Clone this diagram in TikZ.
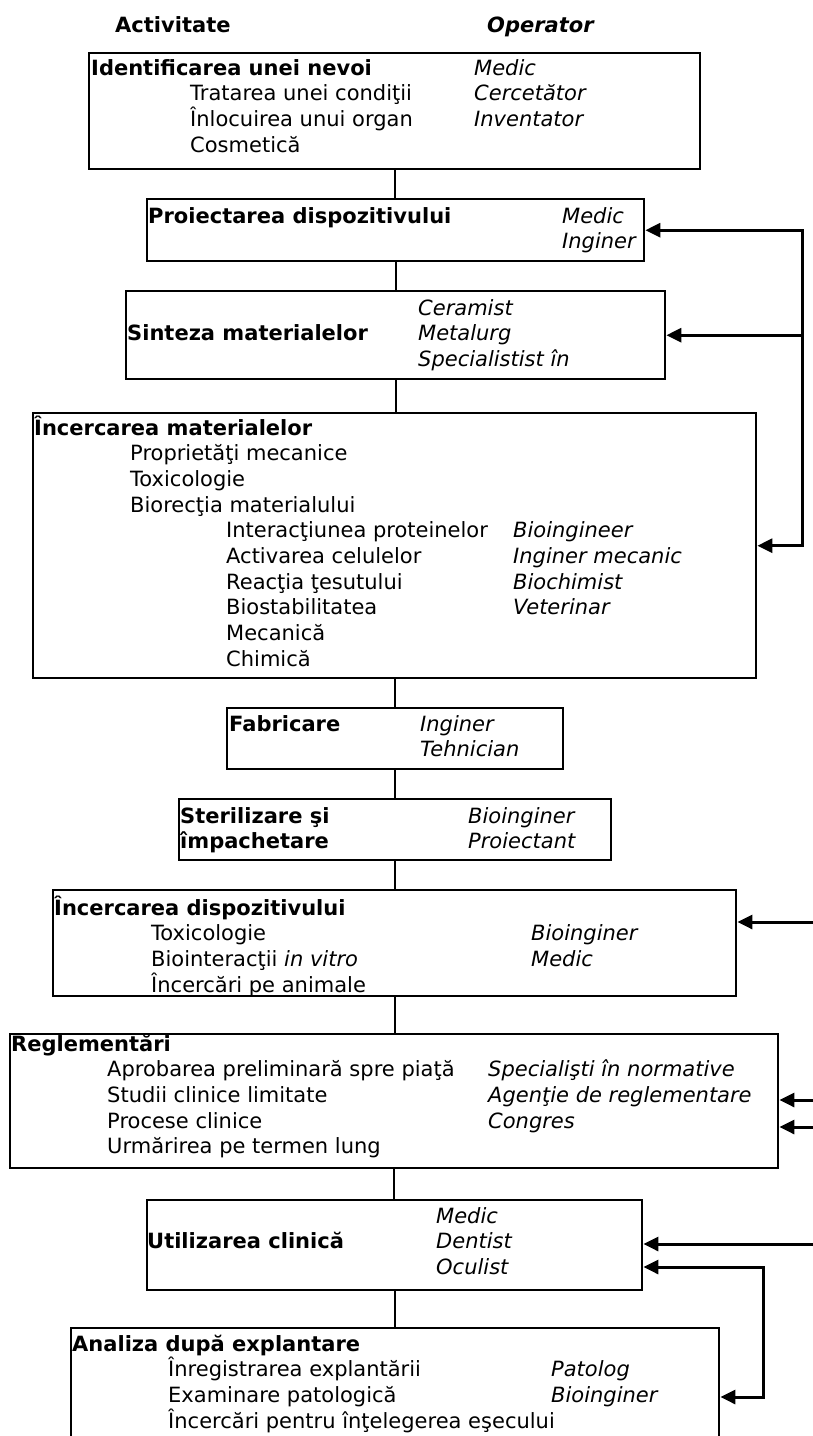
\documentclass[tikz,border=0pt]{standalone}
\usepackage{fontspec}
\setmainfont{DejaVu Sans}
\usetikzlibrary{arrows.meta}

\newlength{\actw}
\newcommand{\act}[2][0]{\makebox[\actw][l]{\hspace*{#1pt}\smash{#2}}}
\newcommand{\boxrows}[2]{\setlength{\actw}{#1pt}\begin{tabular}[t]{@{}l@{}l@{}}#2\end{tabular}}

\tikzset{
  box/.style={draw, line width=2.4pt, anchor=north west, inner sep=0pt},
  txt/.style={anchor=base west, inner sep=0pt},
  link/.style={line width=1.8pt},
  fb/.style={line width=3pt},
  >={Triangle[length=15pt,width=14pt]}
}

\begin{document}
\begin{tikzpicture}[x=1pt, y=-1pt, font=\fontsize{21}{25.7}\selectfont]

    \useasboundingbox (0,0) rectangle (813,1436);
    \fill[white] (0,0) rectangle (813,1436);

    \node[txt] (hact) at (115,32) {\textbf{Activitate}};
    \node[txt] (hop) at (487,32) {\textbf{\textit{Operator}}};

    % boxes
    \node[box, minimum width=611, minimum height=116] (b1) at (88,52) {};
    \node[box, minimum width=497, minimum height=62] (b2) at (146,198) {};
    \node[box, minimum width=539, minimum height=88] (b3) at (125,290) {};
    \node[box, minimum width=723, minimum height=265] (b4) at (32,412) {};
    \node[box, minimum width=336, minimum height=61] (b5) at (226,707) {};
    \node[box, minimum width=432, minimum height=61] (b6) at (178,798) {};
    \node[box, minimum width=683, minimum height=106] (b7) at (52,889) {};
    \node[box, minimum width=768, minimum height=134] (b8) at (9,1033) {};
    \node[box, minimum width=495, minimum height=90] (b9) at (146,1199) {};
    \node[box, minimum width=648, minimum height=130] (b10) at (70,1327) {};

    % texts
    \node[txt] (t1) at (91,75) {\boxrows{383}{
        \act{\textbf{Identificarea unei nevoi}} & \textit{Medic}\\
        \act[99]{Tratarea unei condiţii} & \textit{Cercetător}\\
        \act[99]{Înlocuirea unui organ} & \textit{Inventator}\\
        \act[99]{Cosmetică} & }};
    \node[txt] (t2) at (148,223) {\boxrows{414}{
        \act{\textbf{Proiectarea dispozitivului}} & \textit{Medic}\\
        \act{} & \textit{Inginer}}};
    \node[txt] (t3) at (127,315) {\boxrows{291}{
        \act{} & \textit{Ceramist}\\
        \act{\textbf{Sinteza materialelor}} & \textit{Metalurg}\\
        \act{} & \textit{Specialistist în}}};
    \node[txt] (t4) at (34,435) {\boxrows{479}{
        \act{\textbf{Încercarea materialelor}} & \\
        \act[96]{Proprietăţi mecanice} & \\
        \act[96]{Toxicologie} & \\
        \act[96]{Biorecţia materialului} & \\
        \act[192]{Interacţiunea proteinelor} & \textit{Bioingineer}\\
        \act[192]{Activarea celulelor} & \textit{Inginer mecanic}\\
        \act[192]{Reacţia ţesutului} & \textit{Biochimist}\\
        \act[192]{Biostabilitatea} & \textit{Veterinar}\\
        \act[192]{Mecanică} & \\
        \act[192]{Chimică} & }};
    \node[txt] (t5) at (229,731) {\boxrows{191}{
        \act{\textbf{Fabricare}} & \textit{Inginer}\\
        \act{} & \textit{Tehnician}}};
    \node[txt] (t6) at (180,823) {\boxrows{288}{
        \act{\textbf{Sterilizare şi}} & \textit{Bioinginer}\\
        \act{\textbf{împachetare}} & \textit{Proiectant}}};
    \node[txt] (t7) at (54,915) {\boxrows{477}{
        \act{\textbf{Încercarea dispozitivului}} & \\
        \act[97]{Toxicologie} & \textit{Bioinginer}\\
        \act[97]{Biointeracţii \textit{in vitro}} & \textit{Medic}\\
        \act[97]{Încercări pe animale} & }};
    \node[txt] (t8) at (11,1051) {\boxrows{477}{
        \act{\textbf{Reglementări}} & \\
        \act[96]{Aprobarea preliminară spre piaţă} & \textit{Specialişti în normative}\\
        \act[96]{Studii clinice limitate} & \textit{Agenţie de reglementare}\\
        \act[96]{Procese clinice} & \textit{Congres}\\
        \act[96]{Urmărirea pe termen lung} & }};
    \node[txt] (t9) at (147,1223) {\boxrows{289}{
        \act{} & \textit{Medic}\\
        \act{\textbf{Utilizarea clinică}} & \textit{Dentist}\\
        \act{} & \textit{Oculist}}};
    \node[txt] (t10) at (72,1351) {\boxrows{479}{
        \act{\textbf{Analiza după explantare}} & \\
        \act[96]{Înregistrarea explantării} & \textit{Patolog}\\
        \act[96]{Examinare patologică} & \textit{Bioinginer}\\
        \act[96]{Încercări pentru înţelegerea eşecului} & }};

    % flow
    \foreach \a/\b in {b1/b2, b2/b3, b3/b4, b4/b5, b5/b6, b6/b7, b7/b8, b8/b9, b9/b10}
        \draw[link] (\a.south) -- (\a.south |- \b.north);

    % feedback
    \coordinate (fbx) at (802,0);
    \coordinate (in7) at (816,922);
    \coordinate (in8a) at (816,1100);
    \coordinate (in8b) at (816,1127);
    \coordinate (in9) at (816,1244);
    \coordinate (brk) at (763,1397);

    \draw[fb, <->] (b2.east) -| (fbx |- b4.east) -- (b4.east);
    \draw[fb, ->] (fbx |- b3.east) -- (b3.east);
    \draw[fb, ->] (in7) -- (in7 -| b7.east);
    \draw[fb, ->] (in8a) -- (in8a -| b8.east);
    \draw[fb, ->] (in8b) -- (in8b -| b8.east);
    \draw[fb, ->] (in9) -- (in9 -| b9.east);
    \draw[fb, <->] (b9.east |- 0,1267) -| (brk) -- (brk -| b10.east);

\end{tikzpicture}
\end{document}
